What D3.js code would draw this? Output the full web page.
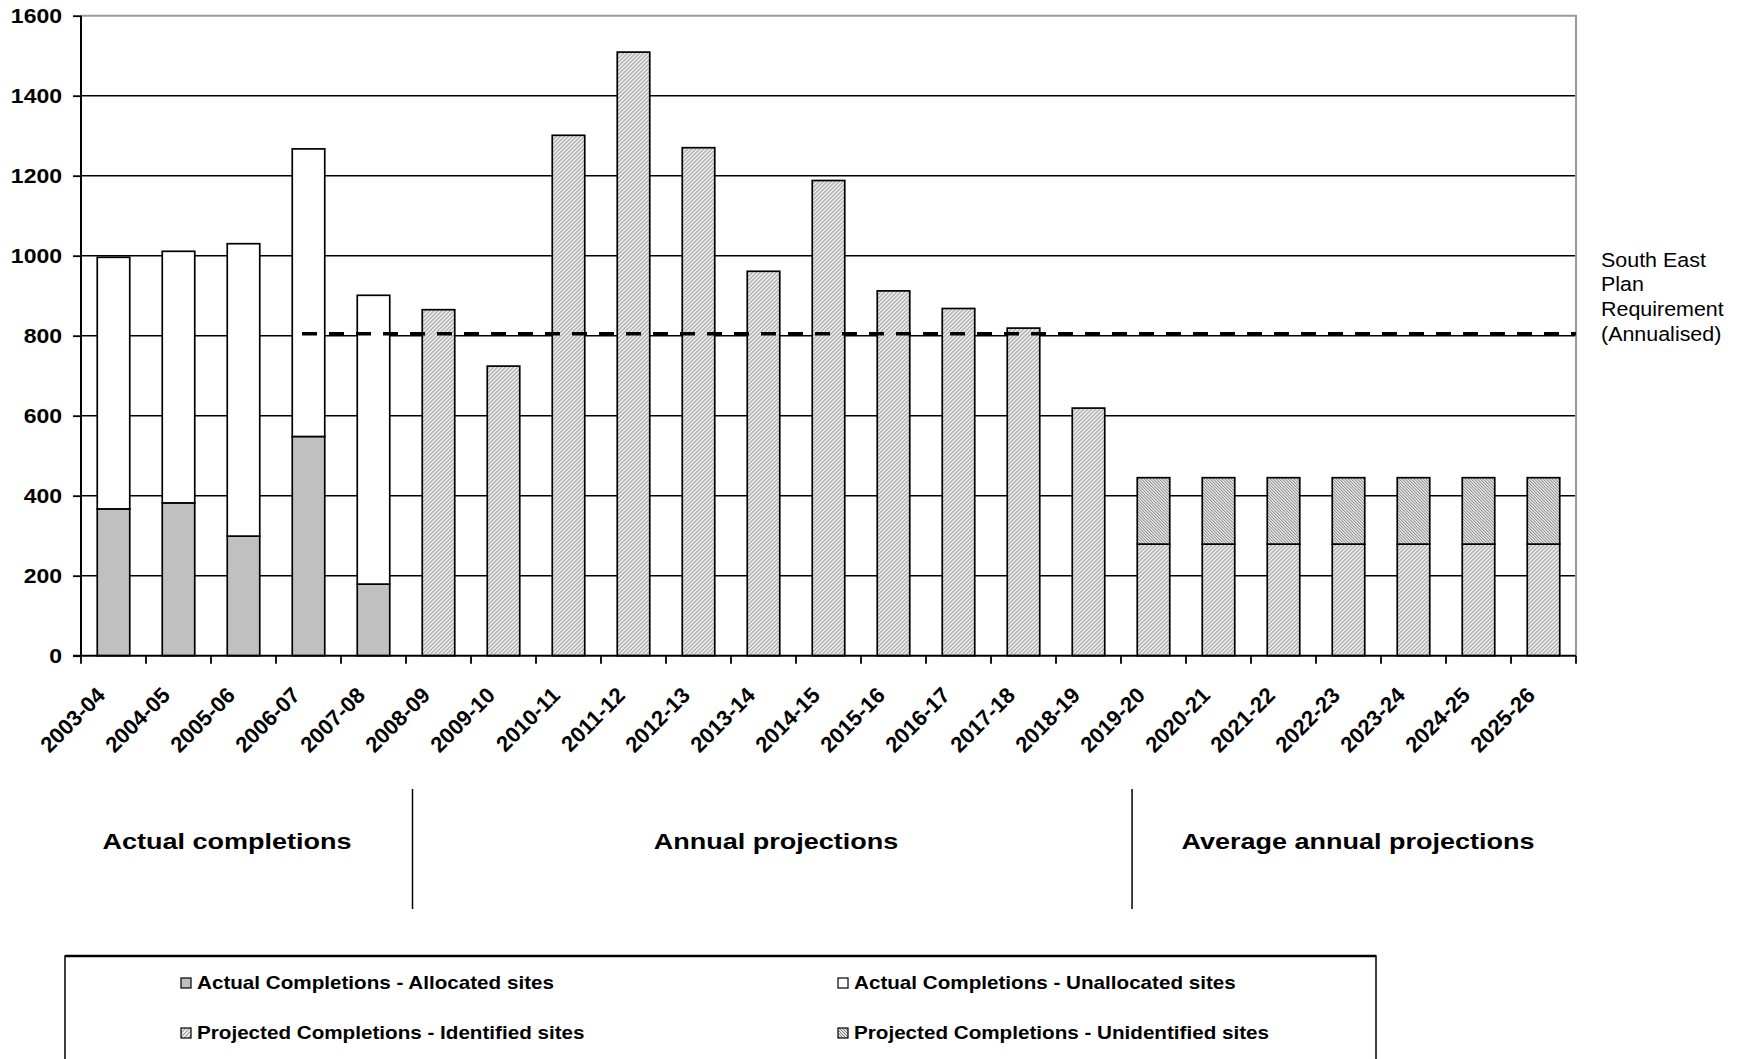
<!DOCTYPE html>
<html>
<head>
<meta charset="utf-8">
<script src="https://cdn.jsdelivr.net/npm/d3@7"></script>
<style>
  body { margin: 0; background: #fff; }
  svg { display: block; font-family: "Liberation Sans", Arial, sans-serif; }
</style>
</head>
<body>
<div id="chart"></div>
<script>
// data
const categories = ["2003-04", "2004-05", "2005-06", "2006-07", "2007-08", "2008-09", "2009-10",
  "2010-11", "2011-12", "2012-13", "2013-14", "2014-15", "2015-16", "2016-17", "2017-18",
  "2018-19", "2019-20", "2020-21", "2021-22", "2022-23", "2023-24", "2024-25", "2025-26"]

const allocated = [367, 382, 299, 548, 179, 0, 0, 0, 0, 0, 0, 0, 0, 0, 0, 0, 0, 0, 0, 0, 0, 0, 0]
const unallocated = [629, 629, 731, 719, 722, 0, 0, 0, 0, 0, 0, 0, 0, 0, 0, 0, 0, 0, 0, 0, 0, 0, 0]
const identified = [0, 0, 0, 0, 0, 865, 724, 1301, 1509, 1270, 961, 1188, 912, 868, 819, 619,
  279, 279, 279, 279, 279, 279, 279]
const unidentified = [0, 0, 0, 0, 0, 0, 0, 0, 0, 0, 0, 0, 0, 0, 0, 0, 166, 166, 166, 166, 166, 166, 166]

const requirement = 805
const requirementFrom = "2006-07"
const yTicks = [0, 200, 400, 600, 800, 1000, 1200, 1400, 1600]

const seriesKeys = ["allocated", "unallocated", "identified", "unidentified"]
const seriesNames = {
  allocated: "Actual Completions - Allocated sites",
  unallocated: "Actual Completions - Unallocated sites",
  identified: "Projected Completions - Identified sites",
  unidentified: "Projected Completions - Unidentified sites",
}
const sections = [
  { label: "Actual completions", x: 227, divider: null, off: 0 },
  { label: "Annual projections", x: 776, divider: "2008-09", off: 0.1 },
  { label: "Average annual projections", x: 1358, divider: "2019-20", off: 0.17 },
]

const table = categories.map((c, i) => ({
  cat: c,
  allocated: allocated[i],
  unallocated: unallocated[i],
  identified: identified[i],
  unidentified: unidentified[i],
}))

// dimensions
const width = 1739, height = 1059
const margin = { top: 15.7, left: 81, right: 163, bottom: 403.3 }
const boundedWidth = width - margin.left - margin.right
const boundedHeight = height - margin.top - margin.bottom
const textStretch = 1.15

const svg = d3.select("#chart").append("svg")
  .attr("width", width)
  .attr("height", height)

// fill patterns
const defs = svg.append("defs")
const pId = defs.append("pattern").attr("id", "pat-identified")
  .attr("patternUnits", "userSpaceOnUse").attr("width", 4).attr("height", 4)
pId.append("rect").attr("width", 4).attr("height", 4).attr("fill", "#f4f4f4")
pId.append("path").attr("d", "M-1,1 l2,-2 M0,4 l4,-4 M3,5 l2,-2")
  .attr("stroke", "#979797").attr("stroke-width", 1.1)

const pUn = defs.append("pattern").attr("id", "pat-unidentified")
  .attr("patternUnits", "userSpaceOnUse").attr("width", 3).attr("height", 3)
pUn.append("rect").attr("width", 3).attr("height", 3).attr("fill", "#e6e6e6")
pUn.append("path").attr("d", "M-1,-1 l2,2 M0,0 l3,3 M2,2 l2,2")
  .attr("stroke", "#7a7a7a").attr("stroke-width", 1)

const fills = {
  allocated: "#c0c0c0",
  unallocated: "#ffffff",
  identified: "url(#pat-identified)",
  unidentified: "url(#pat-unidentified)",
}

const bounds = svg.append("g")
  .attr("transform", `translate(${margin.left},${margin.top})`)

// scales
const xScale = d3.scaleBand()
  .domain(categories)
  .range([0, boundedWidth])
  .paddingInner(0)

const yScale = d3.scaleLinear()
  .domain([0, 1600])
  .range([boundedHeight, 0])

const bw = xScale.bandwidth()
const barW = bw * 0.5

// gridlines
bounds.append("g")
  .selectAll("line")
  .data(yTicks.filter(t => t > 0 && t < 1600))
  .join("line")
    .attr("x1", 0).attr("x2", boundedWidth)
    .attr("y1", d => yScale(d)).attr("y2", d => yScale(d))
    .attr("stroke", "#000").attr("stroke-width", 1.6)

// plot border (top + right, grey)
bounds.append("path")
  .attr("d", `M0,${yScale(1600)}H${boundedWidth}V${yScale(0)}`)
  .attr("fill", "none").attr("stroke", "#9a9a9a").attr("stroke-width", 2)

// stacked bars
const stacked = d3.stack().keys(seriesKeys)(table)
bounds.append("g")
  .selectAll("g")
  .data(stacked)
  .join("g")
    .attr("fill", d => fills[d.key])
  .selectAll("rect")
  .data(d => d.filter(p => p[1] - p[0] > 0))
  .join("rect")
    .attr("x", d => xScale(d.data.cat) + (bw - barW) / 2)
    .attr("width", barW)
    .attr("y", d => yScale(d[1]))
    .attr("height", d => yScale(d[0]) - yScale(d[1]))
    .attr("stroke", "#000")
    .attr("stroke-width", 1.7)

// requirement line
const reqStart = xScale(requirementFrom) + bw * 0.4
bounds.append("path")
  .attr("d", d3.line()([[reqStart, yScale(requirement)], [boundedWidth, yScale(requirement)]]))
  .attr("stroke", "#000")
  .attr("stroke-width", 3.6)
  .attr("stroke-dasharray", "15 12")

// y axis
const yAxis = bounds.append("g")
  .call(d3.axisLeft(yScale).tickValues(yTicks).tickFormat(d3.format("d")).tickSize(8).tickPadding(11))
yAxis.select(".domain").attr("stroke-width", 2).attr("d", `M0,${yScale(0)}V${yScale(1600)}`)
yAxis.selectAll(".tick line").attr("stroke-width", 1.8)
yAxis.selectAll(".tick text")
  .attr("font-size", 20)
  .attr("font-weight", "bold")
  .attr("fill", "#000")
  .attr("font-family", "Liberation Sans, Arial, sans-serif")
  .attr("dy", "0.36em")
  .attr("transform", function () {
    const x = +d3.select(this).attr("x")
    return `translate(${x},0) scale(${textStretch},1) translate(${-x},0)`
  })

// x axis (ticks between categories)
const xAxis = bounds.append("g")
  .attr("transform", `translate(0,${boundedHeight})`)
xAxis.append("line")
  .attr("x1", -8).attr("x2", boundedWidth)
  .attr("stroke", "#000").attr("stroke-width", 2)
xAxis.append("g")
  .selectAll("line")
  .data(categories.concat([null]))
  .join("line")
    .attr("x1", d => d === null ? boundedWidth : xScale(d))
    .attr("x2", d => d === null ? boundedWidth : xScale(d))
    .attr("y1", 0).attr("y2", 8)
    .attr("stroke", "#000").attr("stroke-width", 1.8)
xAxis.append("g")
  .selectAll("text")
  .data(categories)
  .join("text")
    .attr("text-anchor", "end")
    .attr("font-size", 22)
    .attr("font-weight", "bold")
    .attr("transform", d => `translate(${xScale(d) + bw / 2 - 7},41) rotate(-45)`)
    .text(d => d)

// requirement note on the right
const note = svg.append("text")
  .attr("font-size", 19.5)
  .attr("transform", `translate(${margin.left + boundedWidth + 25},266.7) scale(1.1,1)`)
note.selectAll("tspan")
  .data(["South East", "Plan", "Requirement", "(Annualised)"])
  .join("tspan")
    .attr("x", 0)
    .attr("dy", (d, i) => i === 0 ? 0 : 24.7)
    .text(d => d)

// period sections
sections.forEach(s => {
  if (s.divider) {
    const dx = margin.left + xScale(s.divider) + bw * s.off
    svg.append("line")
      .attr("x1", dx).attr("x2", dx)
      .attr("y1", 789).attr("y2", 909)
      .attr("stroke", "#000").attr("stroke-width", 1.5)
  }
  svg.append("text")
    .attr("text-anchor", "middle")
    .attr("font-size", 22.5)
    .attr("font-weight", "bold")
    .attr("transform", `translate(${s.x},849) scale(1.2,1)`)
    .text(s.label)
})

// legend
const legend = svg.append("g")
legend.append("rect")
  .attr("x", 65).attr("y", 956)
  .attr("width", 1311).attr("height", 200)
  .attr("fill", "#fff").attr("stroke", "#000").attr("stroke-width", 1.5)
legend.append("line")
  .attr("x1", 65).attr("x2", 1376).attr("y1", 956).attr("y2", 956)
  .attr("stroke", "#000").attr("stroke-width", 2.5)

const legendPos = [[181, 983], [838, 983], [181, 1033], [838, 1033]]
const items = legend.selectAll("g.item")
  .data(seriesKeys)
  .join("g")
    .attr("class", "item")
    .attr("transform", (d, i) => `translate(${legendPos[i][0]},${legendPos[i][1]})`)
items.append("rect")
  .attr("x", 0).attr("y", -5)
  .attr("width", 10).attr("height", 10)
  .attr("fill", d => fills[d])
  .attr("stroke", "#000").attr("stroke-width", 1.2)
items.append("text")
  .attr("font-size", 17.5)
  .attr("font-weight", "bold")
  .attr("transform", "translate(16,6) scale(1.18,1)")
  .text(d => seriesNames[d])
</script>
</body>
</html>
